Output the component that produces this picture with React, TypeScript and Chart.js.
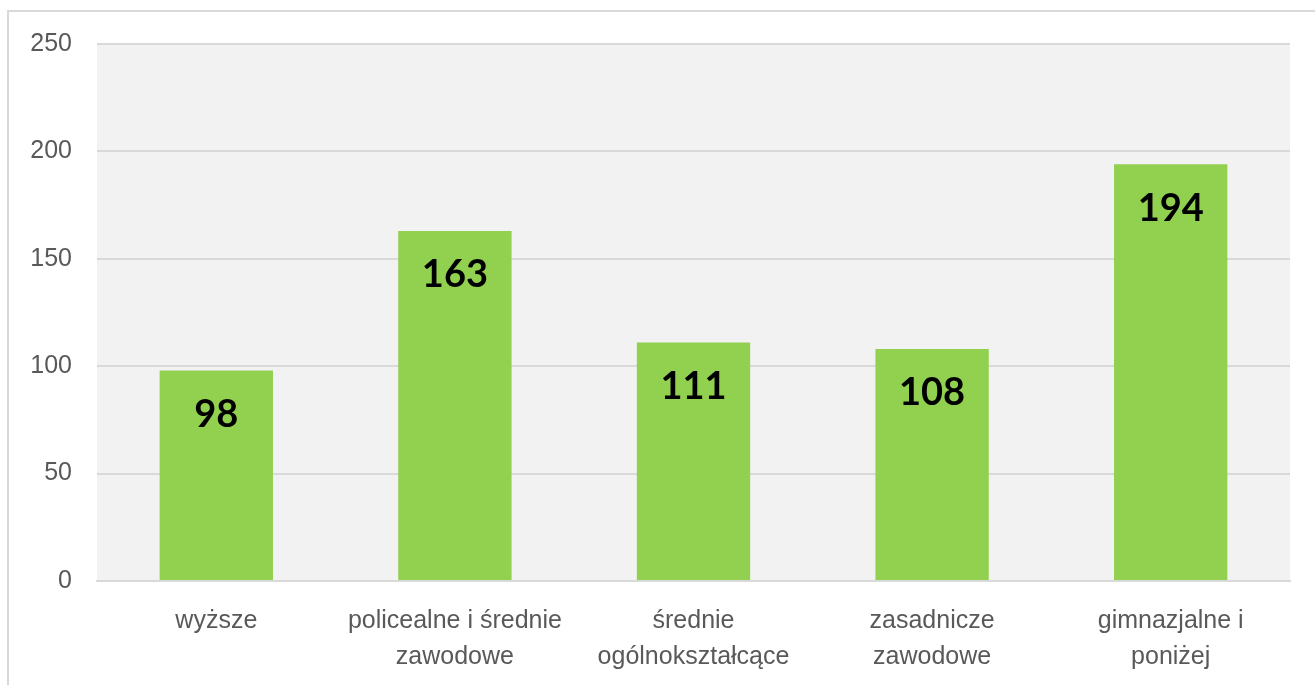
import React, { useEffect, useRef } from "react";
import { Chart, registerables } from "chart.js";

Chart.register(...registerables);

const categories: string[][] = [
  ["wyższe"],
  ["policealne i średnie", "zawodowe"],
  ["średnie", "ogólnokształcące"],
  ["zasadnicze", "zawodowe"],
  ["gimnazjalne i", "poniżej"],
];
const values: number[] = [98, 163, 111, 108, 194];
const yTicks: number[] = [0, 50, 100, 150, 200, 250];

const bgPlugin = {
  id: "bgPlugin",
  beforeDraw(chart: any) {
    const { ctx, chartArea } = chart;
    ctx.save();
    ctx.fillStyle = "#ffffff";
    ctx.fillRect(0, 0, chart.width, chart.height);
    ctx.strokeStyle = "#d9d9d9";
    ctx.lineWidth = 2;
    ctx.beginPath();
    ctx.moveTo(8, chart.height + 5);
    ctx.lineTo(8, 11);
    ctx.lineTo(chart.width + 5, 11);
    ctx.stroke();
    ctx.fillStyle = "#f2f2f2";
    ctx.fillRect(chartArea.left, chartArea.top, chartArea.right - chartArea.left, chartArea.bottom - chartArea.top);
    ctx.restore();
  },
};

const labelPlugin = {
  id: "labelPlugin",
  afterDatasetsDraw(chart: any) {
    const { ctx } = chart;
    const meta = chart.getDatasetMeta(0);
    ctx.save();
    ctx.fillStyle = "#000000";
    ctx.font = "bold 38px Lato";
    ctx.textAlign = "center";
    ctx.textBaseline = "middle";
    meta.data.forEach((bar: any, i: number) => {
      ctx.fillText(String(values[i]), bar.x, bar.y + 44);
    });
    ctx.restore();
  },
};

export default function App() {
  const ref = useRef<HTMLCanvasElement>(null);
  useEffect(() => {
    if (!ref.current) return;
    const chart = new Chart(ref.current, {
      type: "bar",
      data: {
        labels: categories,
        datasets: [
          {
            data: values,
            backgroundColor: "#92d050",
            barPercentage: 0.475,
            categoryPercentage: 1,
          },
        ],
      },
      options: {
        responsive: false,
        animation: false,
        layout: { padding: { left: 0, right: 25, top: 44, bottom: 0 } },
        plugins: { legend: { display: false }, tooltip: { enabled: false } },
        scales: {
          x: {
            grid: { display: false, drawTicks: false },
            border: { display: true, color: "#d9d9d9", width: 2 },
            ticks: {
              color: "#595959",
              font: { family: "'Liberation Sans', Arial", size: 25, lineHeight: 1.44 },
              padding: 22,
              maxRotation: 0,
              autoSkip: false,
            },
            afterFit(scale: any) {
              scale.height = 104;
            },
          },
          y: {
            min: 0,
            max: 250,
            afterBuildTicks(scale: any) {
              scale.ticks = yTicks.map((v) => ({ value: v }));
            },
            grid: { color: "#d9d9d9", lineWidth: 2, drawTicks: false },
            border: { display: false },
            ticks: {
              color: "#595959",
              font: { family: "'Liberation Sans', Arial", size: 25 },
              padding: 25,
            },
            afterFit(scale: any) {
              scale.width = 97;
            },
          },
        },
      },
      plugins: [bgPlugin, labelPlugin],
    });
    return () => chart.destroy();
  }, []);
  return (
    <div style={{ position: "fixed", left: 0, top: 0, width: 1315, height: 685 }}>
      <canvas ref={ref} width={1315} height={685} style={{ width: 1315, height: 685 }} />
    </div>
  );
}
